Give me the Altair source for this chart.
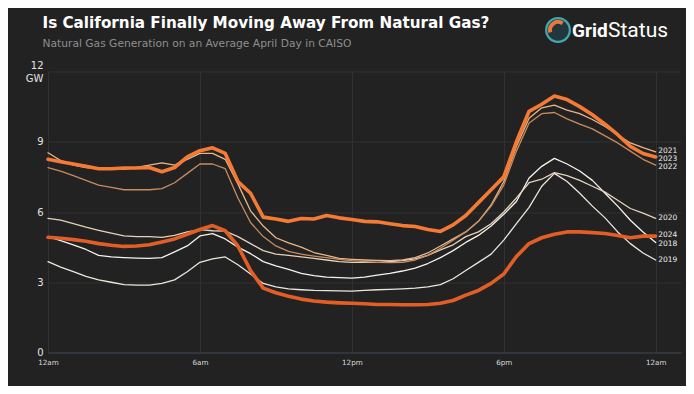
import altair as alt
import pandas as pd

# x positions: hour of day (half-hour steps)
hours = [0.0, 0.5, 1.0, 1.5, 2.0, 2.5, 3.0, 3.5, 4.0, 4.5, 5.0, 5.5, 6.0, 6.5, 7.0, 7.5,
         8.0, 8.5, 9.0, 9.5, 10.0, 10.5, 11.0, 11.5, 12.0, 12.5, 13.0, 13.5, 14.0, 14.5,
         15.0, 15.5, 16.0, 16.5, 17.0, 17.5, 18.0, 18.5, 19.0, 19.5, 20.0, 20.5, 21.0,
         21.5, 22.0, 22.5, 23.0, 23.5, 24.0]

years = ["2018", "2019", "2020", "2021", "2022", "2023", "2024"]

gw_2018 = [4.95, 4.78, 4.6, 4.4, 4.15, 4.08, 4.05, 4.03, 4.02, 4.05, 4.3, 4.55, 4.98, 5.08,
           4.85, 4.5, 4.22, 3.88, 3.7, 3.55, 3.38, 3.28, 3.22, 3.2, 3.18, 3.22, 3.3, 3.38,
           3.48, 3.6, 3.8, 4.05, 4.35, 4.7, 5.0, 5.4, 5.9, 6.45, 7.45, 7.95, 8.29, 8.05,
           7.75, 7.35, 6.8, 6.25, 5.65, 5.15, 4.7]
gw_2019 = [3.88, 3.65, 3.45, 3.25, 3.1, 3.0, 2.9, 2.88, 2.88, 2.95, 3.1, 3.45, 3.85, 4.0,
           4.08, 3.75, 3.35, 2.95, 2.8, 2.72, 2.68, 2.65, 2.64, 2.63, 2.62, 2.65, 2.68, 2.7,
           2.72, 2.75, 2.8, 2.9, 3.15, 3.5, 3.85, 4.2, 4.8, 5.5, 6.2, 7.1, 7.65, 7.3, 6.8,
           6.25, 5.75, 5.15, 4.65, 4.25, 3.95]
gw_2020 = [5.73, 5.65, 5.5, 5.35, 5.22, 5.1, 4.98, 4.95, 4.95, 4.92, 5.0, 5.15, 5.25, 5.2,
           5.18, 4.95, 4.65, 4.35, 4.2, 4.15, 4.08, 4.02, 3.95, 3.88, 3.85, 3.85, 3.85, 3.88,
           3.92, 4.0, 4.15, 4.38, 4.6, 4.95, 5.15, 5.5, 6.0, 6.6, 7.25, 7.4, 7.68, 7.55, 7.35,
           7.1, 6.85, 6.5, 6.15, 5.95, 5.73]
gw_2021 = [8.53, 8.2, 8.0, 7.9, 7.85, 7.82, 7.82, 7.9, 8.0, 8.1, 8.0, 8.25, 8.5, 8.5, 8.25,
           7.2, 6.05, 5.4, 4.9, 4.68, 4.5, 4.27, 4.15, 4.02, 3.98, 3.95, 3.93, 3.92, 3.95,
           4.05, 4.25, 4.55, 4.85, 5.15, 5.6, 6.3, 7.3, 8.8, 10.0, 10.45, 10.56, 10.35, 10.2,
           9.95, 9.65, 9.3, 8.95, 8.75, 8.57]
gw_2022 = [7.89, 7.75, 7.55, 7.35, 7.15, 7.05, 6.95, 6.95, 6.95, 7.0, 7.25, 7.65, 8.05, 8.05,
           7.85, 6.6, 5.55, 4.95, 4.55, 4.32, 4.2, 4.12, 4.05, 3.98, 3.92, 3.88, 3.85, 3.84,
           3.85, 3.95, 4.15, 4.45, 4.8, 5.15, 5.6, 6.25, 7.15, 8.6, 9.8, 10.2, 10.25, 9.98,
           9.75, 9.55, 9.25, 8.95, 8.6, 8.25, 8.0]
gw_2023 = [8.25, 8.15, 8.05, 7.95, 7.85, 7.85, 7.88, 7.88, 7.9, 7.72, 7.9, 8.35, 8.62, 8.74,
           8.5, 7.3, 6.8, 5.78, 5.7, 5.6, 5.72, 5.7, 5.85, 5.75, 5.68, 5.6, 5.58, 5.5, 5.42,
           5.38, 5.25, 5.17, 5.45, 5.85, 6.4, 6.95, 7.5, 9.0, 10.3, 10.6, 10.95, 10.8, 10.5,
           10.15, 9.75, 9.3, 8.8, 8.5, 8.35]
gw_2024 = [4.92, 4.88, 4.82, 4.75, 4.65, 4.58, 4.53, 4.55, 4.6, 4.72, 4.85, 5.05, 5.25, 5.42,
           5.2, 4.55, 3.5, 2.75, 2.55, 2.4, 2.28, 2.2, 2.15, 2.12, 2.1, 2.08, 2.05, 2.05, 2.04,
           2.04, 2.05, 2.1, 2.22, 2.45, 2.65, 2.95, 3.35, 4.1, 4.65, 4.9, 5.05, 5.15, 5.15,
           5.12, 5.08, 5.0, 4.9, 4.97, 4.97]

# end-of-line year labels (GW position of each label)
label_gw = [4.63, 3.94, 5.76, 8.6, 7.91, 8.27, 5.0]

x_ticks = [0, 6, 12, 18, 24]
y_ticks = [0, 3, 6, 9, 12]

title_text = "Is California Finally Moving Away From Natural Gas?"
subtitle_text = "Natural Gas Generation on an Average April Day in CAISO"

colors = ["#f6f2ec", "#ede6dd", "#e4d3bb", "#e8b88c", "#c98c5f", "#f47a36", "#e25e27"]
widths = [1.3, 1.3, 1.3, 1.3, 1.3, 3.6, 3.6]

series = {"2018": gw_2018, "2019": gw_2019, "2020": gw_2020, "2021": gw_2021,
          "2022": gw_2022, "2023": gw_2023, "2024": gw_2024}

rows = []
for yr in years:
    for h, v in zip(hours, series[yr]):
        rows.append({"hour": h, "gw": v, "year": yr})
df = pd.DataFrame(rows)
labels_df = pd.DataFrame({"year": years, "gw": label_gw, "hour": [24.0] * len(years)})

FONT = "DejaVu Sans"
GRID = "#313131"

x_scale = alt.Scale(domain=[0, 25], nice=False, zero=False)
y_scale = alt.Scale(domain=[0, 12], nice=False)

x_axis = alt.Axis(
    values=x_ticks, title=None, grid=True, gridColor=GRID, gridWidth=1,
    domain=True, domainColor="#3b4450", domainWidth=1, ticks=False,
    labelExpr="datum.value == 0 || datum.value == 24 ? '12am' : datum.value == 6 ? '6am' : datum.value == 12 ? '12pm' : '6pm'",
    labelColor="#d8d8d8", labelFont=FONT, labelFontSize=7.2, labelPadding=6, labelFlush=False,
)
y_axis = alt.Axis(
    values=y_ticks, title=None, grid=True, gridColor=GRID, gridWidth=1,
    domain=False, ticks=False,
    labelExpr="datum.value == 12 ? ['12', 'GW'] : datum.label",
    labelOffset={"condition": {"test": "datum.value == 12", "value": -6.5}, "value": 0},
    labelColor="#e2e2e2", labelFont=FONT, labelFontSize=10, labelPadding=5, labelLineHeight=13,
)

layers = []
for i, yr in enumerate(years):
    layers.append(
        alt.Chart(df[df["year"] == yr])
        .mark_line(color=colors[i], strokeWidth=widths[i], strokeJoin="round", strokeCap="round")
        .encode(
            x=alt.X("hour:Q", scale=x_scale, axis=x_axis),
            y=alt.Y("gw:Q", scale=y_scale, axis=y_axis),
        )
    )

year_labels = alt.Chart(labels_df).mark_text(
    align="left", baseline="middle", dx=2.5, font=FONT, fontSize=7.5, color="#ececec"
).encode(
    x=alt.X("hour:Q", scale=x_scale, axis=x_axis),
    y=alt.Y("gw:Q", scale=y_scale, axis=y_axis),
    text="year:N",
)

# title & subtitle (real text, placed above the plot)
title_mark = alt.Chart(pd.DataFrame({"t": [title_text]})).mark_text(
    align="left", baseline="alphabetic", font=FONT, fontSize=15.2, fontWeight="bold", color="#ffffff"
).encode(x=alt.value(-5.5), y=alt.value(-43.8), text="t:N")
subtitle_mark = alt.Chart(pd.DataFrame({"t": [subtitle_text]})).mark_text(
    align="left", baseline="alphabetic", font=FONT, fontSize=10.7, color="#8e8e8e"
).encode(x=alt.value(-5.5), y=alt.value(-24.8), text="t:N")

# GridStatus logo
logo_icon = alt.Chart(pd.DataFrame({"k": [1]})).mark_point(
    shape="circle", filled=True, size=560, fill="#22363b", stroke="#3fa9ab", strokeWidth=2.2, opacity=1
).encode(x=alt.value(510), y=alt.value(-41.5))
logo_swirl = alt.Chart(pd.DataFrame({"k": [1]})).mark_arc(
    innerRadius=6, outerRadius=10, theta=4.4, theta2=6.9, color="#e8783c"
).encode(x=alt.value(510), y=alt.value(-41.5))
logo_grid = alt.Chart(pd.DataFrame({"t": ["Grid"]})).mark_text(
    align="left", baseline="alphabetic", font="Roboto", fontSize=19, fontWeight="bold", color="white"
).encode(x=alt.value(524), y=alt.value(-35), text="t:N")
logo_status = alt.Chart(pd.DataFrame({"t": ["Status"]})).mark_text(
    align="left", baseline="alphabetic", font="Roboto", fontSize=21, fontWeight="normal", color="white"
).encode(x=alt.value(560), y=alt.value(-35), text="t:N")

chart = alt.layer(
    *layers, year_labels, title_mark, subtitle_mark, logo_icon, logo_swirl, logo_grid, logo_status
).properties(
    width=633,
    height=281,
    background="#222222",
    padding={"left": 40, "top": 63.5, "right": 5, "bottom": 33.5},
    autosize=alt.AutoSizeParams(type="none"),
).configure_view(stroke=None)

chart.save("out.html", embed_options={"renderer": "svg", "actions": False})
